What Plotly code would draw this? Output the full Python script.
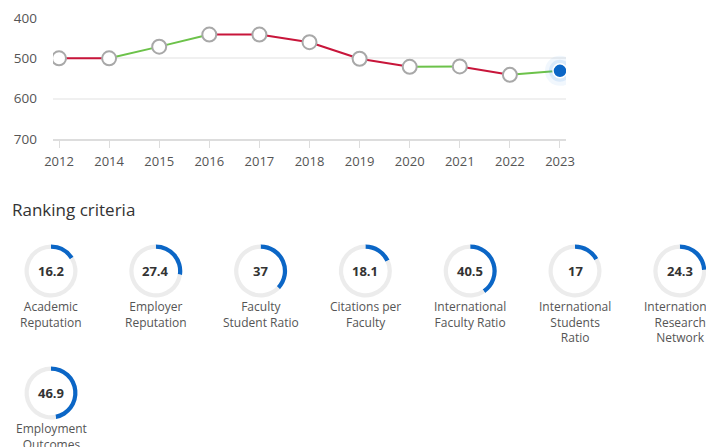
import textwrap
import plotly.graph_objects as go

# ---------------- data ----------------
years = ["2012", "2014", "2015", "2016", "2017", "2018", "2019", "2020", "2021", "2022", "2023"]
ranks = [500, 500, 471, 441, 441, 460, 501, 521, 520, 541, 531]
y_ticks = [400, 500, 600, 700]

criteria = ["Academic Reputation", "Employer Reputation", "Faculty Student Ratio",
            "Citations per Faculty", "International Faculty Ratio",
            "International Students Ratio", "International Research Network",
            "Employment Outcomes"]
scores = [16.2, 27.4, 37, 18.1, 40.5, 17, 24.3, 46.9]

# ---------------- layout constants ----------------
W, H = 714, 447
OFF = 8  # page body margin
FONT = "Open Sans"
RED = "#c8153a"
GREEN = "#6cc24a"
BLUE = "#0b66c6"

def px_x(p):
    return (p - OFF) / W

def px_y(p):
    return 1 - (p - OFF) / H

fig = go.Figure()

# line segments coloured by direction (improvement = green)
for i in range(len(years) - 1):
    col = GREEN if ranks[i + 1] < ranks[i] else RED
    fig.add_trace(go.Scatter(x=years[i:i + 2], y=ranks[i:i + 2], mode="lines",
                             line=dict(color=col, width=2), hoverinfo="skip",
                             showlegend=False))

# open markers for past years
fig.add_trace(go.Scatter(x=years[:-1], y=ranks[:-1], mode="markers",
                         marker=dict(size=14, color="white",
                                     line=dict(color="#a8a8a8", width=2)),
                         showlegend=False))
# glow + current year marker
fig.add_trace(go.Scatter(x=years[-1:], y=ranks[-1:], mode="markers",
                         marker=dict(size=30, color="rgba(60,140,230,0.07)", line=dict(width=0)),
                         hoverinfo="skip", showlegend=False))
fig.add_trace(go.Scatter(x=years[-1:], y=ranks[-1:], mode="markers",
                         marker=dict(size=22, color="rgba(60,140,230,0.12)", line=dict(width=0)),
                         hoverinfo="skip", showlegend=False))
fig.add_trace(go.Scatter(x=years[-1:], y=ranks[-1:], mode="markers",
                         marker=dict(size=14, color=BLUE, line=dict(color="white", width=1.5)),
                         showlegend=False))

# ---------------- donuts ----------------
R = 26.5
annotations = []
for i, (name, val) in enumerate(zip(criteria, scores)):
    cx = 51 + 104.8 * (i % 7)
    cy = 271 + 122 * (i // 7)
    fig.add_trace(go.Pie(values=[val, 100 - val], sort=False, direction="clockwise",
                         rotation=0, hole=0.84, automargin=False,
                         marker=dict(colors=[BLUE, "#ececec"], line=dict(width=0)),
                         textinfo="none", hoverinfo="skip", showlegend=False,
                         domain=dict(x=[px_x(cx - R), px_x(cx + R)],
                                     y=[px_y(cy + R), px_y(cy - R)])))
    annotations.append(dict(x=px_x(cx), y=px_y(cy), xref="paper", yref="paper",
                            text="<b>%s</b>" % ("%g" % val), showarrow=False,
                            font=dict(family=FONT, size=13, color="#333333"),
                            xanchor="center", yanchor="middle"))
    annotations.append(dict(x=px_x(cx), y=px_y(cy + 25), xref="paper", yref="paper",
                            text="<br>".join(textwrap.wrap(name, 13)), showarrow=False,
                            font=dict(family=FONT, size=12, color="#555555"),
                            xanchor="center", yanchor="top", align="center"))

annotations.append(dict(x=px_x(10), y=px_y(210), xref="paper", yref="paper",
                        text="Ranking criteria", showarrow=False,
                        font=dict(family=FONT, size=17, color="#333333"),
                        xanchor="left", yanchor="middle"))

fig.update_layout(
    width=W, height=H, autosize=False,
    margin=dict(l=0, r=0, t=0, b=0, pad=0),
    paper_bgcolor="white", plot_bgcolor="white",
    font=dict(family=FONT, color="#555555", size=13),
    annotations=annotations,
    xaxis=dict(type="category", domain=[px_x(53), px_x(566)], range=[-0.12, 10.12],
               automargin=False,
               showgrid=False, showline=True, linecolor="#dddddd", linewidth=1.5,
               ticks="outside", ticklen=7, tickcolor="#dddddd", tickwidth=1,
               ticklabelstandoff=3,
               tickfont=dict(family=FONT, size=13, color="#555555"), fixedrange=True),
    yaxis=dict(domain=[px_y(139), px_y(18)], range=[700, 400], tickvals=y_ticks,
               automargin=False,
               showgrid=True, gridcolor="#f0f0f0", gridwidth=1.5, zeroline=False,
               showline=False, ticks="", ticklabelstandoff=15,
               tickfont=dict(family=FONT, size=13.5, color="#555555"), fixedrange=True),
)

fig.write_html("out.html")
